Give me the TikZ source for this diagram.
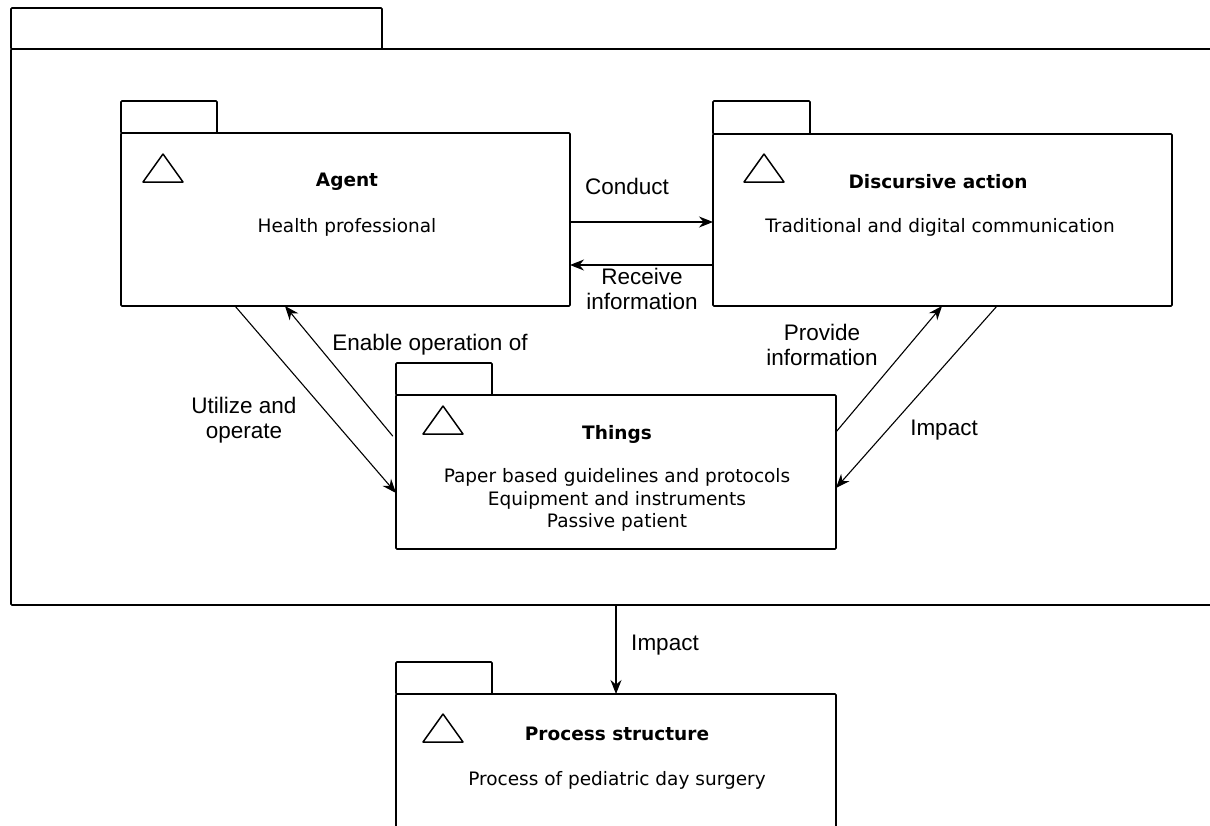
\documentclass[tikz,border=0pt]{standalone}
\usepackage{fontspec}
\newfontfamily\boxfont{DejaVu Sans}
\newfontfamily\lblfont{Liberation Sans}
\usetikzlibrary{arrows.meta}

\tikzset{
  pkg/.style={draw, line width=1.6pt, rounded corners=1pt, inner sep=0pt, outer sep=0pt},
  pkgtab/.style={draw, line width=1.6pt, rounded corners=1pt},
  flow/.style={line width=1.1pt, -{Stealth[length=14pt,width=11pt]}},
  lbl/.style={font=\lblfont\fontsize{22.5}{25.5}\selectfont, align=center, inner sep=0pt},
  ttl/.style={font=\boxfont\bfseries\fontsize{18.5}{22.5}\selectfont, inner sep=0pt},
  subtxt/.style={font=\boxfont\fontsize{18.5}{22.5}\selectfont, align=center, inner sep=0pt},
  marktri/.pic={\draw[line width=1.5pt, line join=round] (-20,0) -- (0,-28) -- (20,0) -- cycle;}
}

\begin{document}
\begin{tikzpicture}[x=1pt,y=-1pt]
    \useasboundingbox (0,0) rectangle (1210,825);
    \clip (0,0) rectangle (1210,825);

    % outer package
    \node[pkg, minimum width=1260pt, minimum height=556pt, anchor=north west] (outer) at (11,49) {};
    \draw[pkgtab] (outer.north west) rectangle ++(371,-41);

    % packages
    \node[pkg, minimum width=449pt, minimum height=173pt, anchor=north west] (agent) at (121,133) {};
    \draw[pkgtab] (agent.north west) rectangle ++(96,-32);
    \node[pkg, minimum width=459pt, minimum height=172pt, anchor=north west] (disc) at (713,134) {};
    \draw[pkgtab] (disc.north west) rectangle ++(97,-33);
    \node[pkg, minimum width=440pt, minimum height=154pt, anchor=north west] (things) at (396,395) {};
    \draw[pkgtab] (things.north west) rectangle ++(96,-32);
    \node[pkg, minimum width=440pt, minimum height=220pt, anchor=north west] (proc) at (396,694) {};
    \draw[pkgtab] (proc.north west) rectangle ++(96,-32);

    \pic at (163,182) {marktri};
    \pic at (764,182) {marktri};
    \pic at (443,434) {marktri};
    \pic at (443,742) {marktri};

    \node[ttl] (tagent) at (347,182) {Agent};
    \node[subtxt] (sagent) at (347,227) {Health professional};
    \node[ttl] (tdisc) at (938,182) {Discursive action};
    \node[subtxt] (sdisc) at (940,227) {Traditional and digital communication};
    \node[ttl] (tthings) at (617,434) {Things};
    \node[subtxt] (sthings) at (617,500) {Paper based guidelines and protocols\\Equipment and instruments\\Passive patient};
    \node[ttl] (tproc) at (617,734) {Process structure};
    \node[subtxt] (sproc) at (617,780) {Process of pediatric day surgery};

    % connectors
    \draw[flow] (agent.east |- 0,222) -- (disc.west |- 0,222);
    \draw[flow] (disc.west |- 0,265) -- (agent.east |- 0,265);
    \draw[flow] (agent.south -| 235,0) -- (things.west |- 0,493);
    \draw[flow, shorten <=5pt] (things.west |- 0,440) -- (agent.south -| 285,0);
    \draw[flow] (things.east |- 0,432) -- (disc.south -| 942,0);
    \draw[flow] (disc.south -| 997,0) -- (things.east |- 0,488);
    \draw[flow] (outer.south -| proc.north) -- (proc.north);

    \node[lbl] (lconduct) at (627,186) {Conduct};
    \node[lbl] (lreceive) at (642,289) {Receive\\information};
    \node[lbl] (lenable) at (430,345) {Enable operation of};
    \node[lbl] (lutilize) at (244,420) {Utilize and\\operate};
    \node[lbl] (lprovide) at (822,345) {Provide\\information};
    \node[lbl] (limpact) at (944,430) {Impact};
    \node[lbl] (limpactb) at (665,645) {Impact};
\end{tikzpicture}
\end{document}
